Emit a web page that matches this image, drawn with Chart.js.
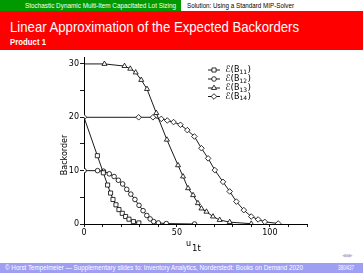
<!DOCTYPE html>
<html>
<head>
<meta charset="utf-8">
<script src="https://cdn.jsdelivr.net/npm/chart.js@4/dist/chart.umd.min.js"></script>
<style>
  html, body { margin: 0; padding: 0; background: #fff; }
  body { width: 363px; height: 273px; position: relative; overflow: hidden;
         font-family: "Liberation Sans", "DejaVu Sans", sans-serif; }
  .abs { position: absolute; white-space: nowrap; }
  .fit { display: inline-block; transform-origin: 0 0; }
  #green { left: 0; top: 0; width: 181px; height: 11px; background: #009a00; }
  #red { left: 0; top: 11px; width: 363px; height: 39px; background: #ff0000; }
  #foot { left: 0; top: 263px; width: 363px; height: 10px; background: #9e9ef2; }
  #chartWrap { left: 0; top: 50px; width: 363px; height: 212px; }
</style>
</head>
<body>
<div id="green" class="abs"></div>
<div id="red" class="abs"></div>
<div id="foot" class="abs"></div>

<span id="hdrL" class="abs fit" style="left:25px; top:1px; font-size:7px; line-height:9px; color:#fff;">Stochastic Dynamic Multi-Item Capacitated Lot Sizing</span>
<span id="hdrR" class="abs fit" style="left:187px; top:1px; font-size:7px; line-height:9px; color:#000;">Solution: Using a Standard MIP-Solver</span>
<span id="title" class="abs fit" style="left:10px; top:19px; font-size:15px; line-height:15px; color:#fff;">Linear Approximation of the Expected Backorders</span>
<span id="sub" class="abs fit" style="left:10px; top:38px; font-size:8.5px; line-height:8.5px; color:#fff; font-weight:bold;">Product 1</span>
<span id="nav" class="abs" style="left:342px; top:253px; font-size:5px; line-height:5px; color:#b8b8d8;">&#9664;&#9632;&#9654;</span>
<span id="footL" class="abs fit" style="left:5px; top:264px; font-size:7px; line-height:8px; color:#fff;">&#169; Horst Tempelmeier &#8212; Supplementary slides to: Inventory Analytics, Norderstedt: Books on Demand 2020</span>
<span id="footR" class="abs fit" style="left:338px; top:264px; font-size:7px; line-height:8px; color:#fff;">380/437</span>

<div id="chartWrap" class="abs"><canvas id="chart" width="363" height="212"></canvas></div>

<script>
// --- data ---
var b11U = [0, 7.2, 10.4, 12.7, 14.3, 15.6, 17.2, 18.8, 20.6, 22.4, 24.2, 26.6, 29.5];
var b11  = [20, 12.8, 9.6, 7.3, 5.8, 4.6, 3.6, 2.7, 2.0, 1.4, 0.9, 0.45, 0.2];

var b12U = [0, 7.3, 10.5, 13.6, 16.2, 18.5, 20.8, 23, 25.2, 27.4, 29.6, 31.8, 33.8, 35.6, 37.5, 40, 44.3, 59.5];
var b12  = [10, 10, 9.9, 9.4, 8.9, 8.2, 7.5, 6.5, 5.6, 4.6, 3.5, 2.5, 1.6, 0.95, 0.45, 0.2, 0.08, 0];

var b13U = [0, 11, 21.8, 24.9, 27.8, 30.8, 33.9, 38.9, 44.6, 50.6, 53.3, 56, 58.7, 61.3, 63.2, 65.9, 69.4, 73, 78.4, 90];
var b13  = [30, 30, 29.6, 29.1, 28.4, 27, 25.3, 20.8, 15.8, 11, 8.9, 6.7, 5.4, 3.9, 2.9, 2.3, 1.4, 0.75, 0.35, 0.05];

var b14U = [0, 29.4, 37.1, 41.6, 44.8, 48.2, 51.9, 55.6, 59.4, 63.2, 66.8, 70.4, 74.8, 78.4, 82, 86, 90, 93.7, 97.3, 104.5];
var b14  = [20, 20, 20, 19.7, 19.4, 19.1, 18.6, 17.6, 16.4, 14.2, 12.3, 10.1, 7.9, 6.1, 4.2, 2.6, 1.4, 0.85, 0.4, 0.1];

var seriesNames = ['11', '12', '13', '14'];
var xTicks = [0, 10, 20, 30, 40, 50, 60, 70, 80, 90, 100, 110, 120];
var xLabels = [0, 50, 100];
var yTicks = [0, 5, 10, 15, 20, 25, 30];
var yLabels = [0, 10, 20, 30];

// fit header/footer text to the widths in the picture
function fit(id, w) {
  var el = document.getElementById(id);
  var r = el.getBoundingClientRect().width;
  el.style.transform = 'scaleX(' + (w / r) + ')';
}
fit('hdrL', 151);
fit('hdrR', 107);
fit('title', 289);
fit('sub', 36);
fit('footL', 298);
fit('footR', 16);

function pts(u, v) {
  return u.map(function (x, i) { return { x: x, y: v[i] }; });
}

var styles = ['rect', 'circle', 'triangle', 'rectRot'];
var radii = [2.9, 2.3, 2.9, 2.8];

function ds(u, v, k, firstHidden) {
  var r = v.map(function (_, i) { return (i === 0 && firstHidden) ? 0 : radii[k]; });
  return {
    label: 'E(B' + seriesNames[k] + ')',
    data: pts(u, v),
    showLine: true,
    borderColor: '#000',
    borderWidth: 0.9,
    pointStyle: styles[k],
    pointRadius: r,
    pointBorderWidth: 0.8,
    pointBorderColor: '#000',
    pointBackgroundColor: '#fff',
    tension: 0
  };
}

function drawMarker(ctx, style, r, x, y) {
  ctx.beginPath();
  if (style === 'rect') {
    var s = r * Math.SQRT1_2;
    ctx.rect(x - s, y - s, 2 * s, 2 * s);
  } else if (style === 'circle') {
    ctx.arc(x, y, r, 0, Math.PI * 2);
  } else if (style === 'triangle') {
    ctx.moveTo(x, y - r);
    ctx.lineTo(x + r * 0.87, y + r * 0.5);
    ctx.lineTo(x - r * 0.87, y + r * 0.5);
    ctx.closePath();
  } else {
    ctx.moveTo(x, y - r);
    ctx.lineTo(x + r, y);
    ctx.lineTo(x, y + r);
    ctx.lineTo(x - r, y);
    ctx.closePath();
  }
  ctx.fillStyle = '#fff';
  ctx.fill();
  ctx.stroke();
}

// legend + axis titles drawn on the canvas
var extras = {
  id: 'extras',
  afterDraw: function (chart) {
    var ctx = chart.ctx;
    ctx.save();
    ctx.strokeStyle = '#000';
    ctx.fillStyle = '#000';
    ctx.lineWidth = 0.9;
    var rows = [20, 29, 38, 46.5];
    rows.forEach(function (y, k) {
      ctx.beginPath();
      ctx.moveTo(208, y);
      ctx.lineTo(220, y);
      ctx.stroke();
      ctx.lineWidth = 0.8;
      drawMarker(ctx, styles[k], radii[k], 214, y);
      ctx.lineWidth = 0.9;
      ctx.fillStyle = '#000';
      ctx.textBaseline = 'middle';
      ctx.textAlign = 'left';
      var x = 225;
      ctx.font = '9px "DejaVu Sans"';
      ctx.fillText('\u2130(', x, y);
      x += ctx.measureText('\u2130(').width;
      ctx.font = '8px "DejaVu Sans"';
      ctx.fillText('B', x, y);
      x += ctx.measureText('B').width;
      ctx.font = '6px "DejaVu Sans"';
      ctx.fillText(seriesNames[k], x, y + 2);
      x += ctx.measureText(seriesNames[k]).width + 0.5;
      ctx.font = '9px "DejaVu Sans"';
      ctx.fillText(')', x, y);
    });

    // y title
    ctx.save();
    ctx.translate(65, 105);
    ctx.rotate(-Math.PI / 2);
    ctx.font = '8px "DejaVu Sans"';
    ctx.textAlign = 'center';
    ctx.textBaseline = 'middle';
    ctx.fillText('Backorder', 0, 0);
    ctx.restore();

    // x title u_1t
    ctx.font = '8px "DejaVu Sans"';
    ctx.textAlign = 'left';
    ctx.textBaseline = 'middle';
    ctx.fillText('u', 186, 193.5);
    ctx.font = '8.5px "DejaVu Sans"';
    ctx.fillText('1t', 192, 199);
    ctx.restore();
  }
};

new Chart(document.getElementById('chart').getContext('2d'), {
  type: 'scatter',
  data: {
    datasets: [
      ds(b11U, b11, 0, true),
      ds(b12U, b12, 1, false),
      ds(b13U, b13, 2, true),
      ds(b14U, b14, 3, false)
    ]
  },
  options: {
    responsive: false,
    animation: false,
    devicePixelRatio: 1,
    layout: { padding: { left: 0, top: 7, right: 56, bottom: 0 } },
    plugins: { legend: { display: false }, tooltip: { enabled: false } },
    scales: {
      x: {
        type: 'linear',
        min: 0,
        max: 120,
        afterBuildTicks: function (s) { s.ticks = xTicks.map(function (v) { return { value: v }; }); },
        afterFit: function (s) { s.height = 38; },
        ticks: {
          autoSkip: false,
          maxRotation: 0,
          padding: 1,
          color: '#000',
          font: { family: 'DejaVu Sans', size: 8 },
          callback: function (v) { return xLabels.indexOf(v) >= 0 ? String(v) : ''; }
        },
        grid: { drawOnChartArea: false, drawTicks: true, tickLength: 3, color: '#000', lineWidth: 0.9 },
        border: { display: true, color: '#000', width: 1 }
      },
      y: {
        type: 'linear',
        min: 0,
        max: 31.3,
        afterBuildTicks: function (s) { s.ticks = yTicks.map(function (v) { return { value: v }; }); },
        afterFit: function (s) { s.width = 84; },
        ticks: {
          autoSkip: false,
          padding: 1,
          color: '#000',
          font: { family: 'DejaVu Sans', size: 8 },
          callback: function (v) { return yLabels.indexOf(v) >= 0 ? String(v) : ''; }
        },
        grid: { drawOnChartArea: false, drawTicks: true, tickLength: 4, color: '#000', lineWidth: 0.9 },
        border: { display: true, color: '#000', width: 1 }
      }
    }
  },
  plugins: [extras]
});
</script>
</body>
</html>
